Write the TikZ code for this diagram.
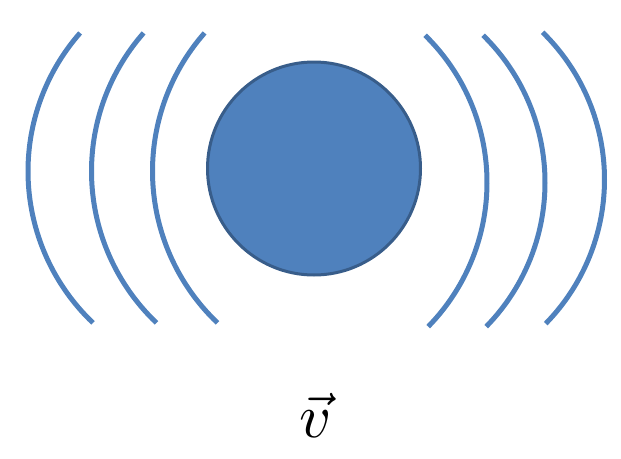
\documentclass[tikz,border=0pt]{standalone}
\usepackage{amsmath}
\definecolor{wave}{HTML}{4F81BD}
\definecolor{ballfill}{HTML}{4F81BD}
\definecolor{balledge}{HTML}{385D8A}
\begin{document}
\begin{tikzpicture}[x=1pt,y=-1pt,
  wavestyle/.style={draw=wave,line width=5pt,line cap=butt},
  ballstyle/.style={circle,draw=balledge,fill=ballfill,line width=3pt,minimum size=213pt,inner sep=0pt}]
\useasboundingbox (0,0) rectangle (621,458);
\node[ballstyle] (ball) at (314,168.5) {};
% left waves
\foreach \s in {0,63.5,124.5}{
  \draw[wavestyle] plot[domain=133.6:221.3,samples=60,smooth] ({237.5+\s+209.5*cos(\x)},{171.2+209.5*sin(\x)});
}
% right waves
\draw[wavestyle] plot[domain=-45.6:44.4,samples=60,smooth] ({281+206*cos(\x)},{182.5+206*sin(\x)});
\draw[wavestyle] plot[domain=-45.6:44.4,samples=60,smooth] ({339+206*cos(\x)},{182.5+206*sin(\x)});
\draw[wavestyle] plot[domain=-45.6:44.4,samples=60,smooth] ({398.5+206*cos(\x)},{179.5+206*sin(\x)});
\node[anchor=base,inner sep=0pt,scale=6.2] (vel) at (316,437) {$\vec{v}$};
\end{tikzpicture}
\end{document}
